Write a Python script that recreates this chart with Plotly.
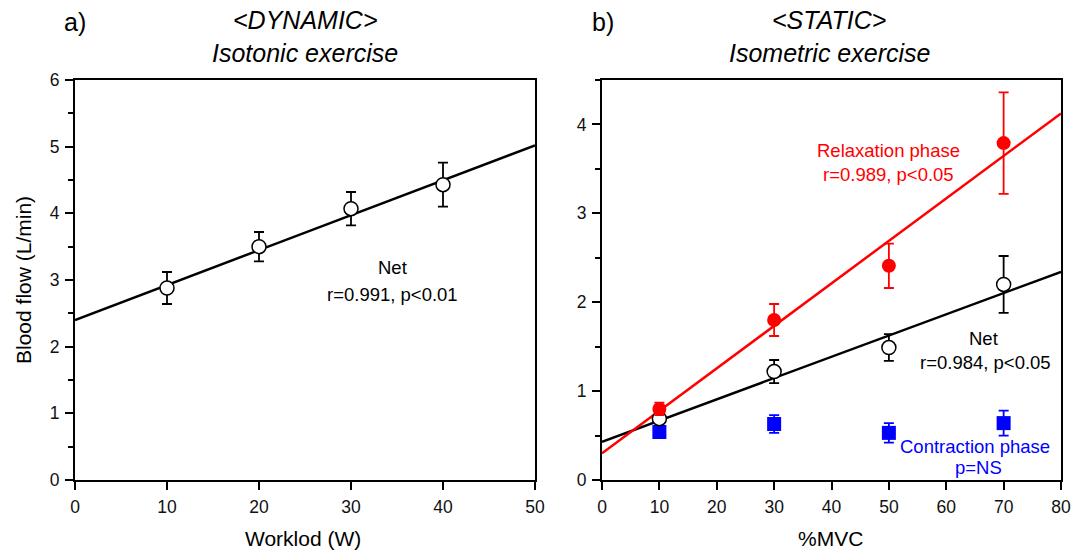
import numpy as np
import plotly.graph_objects as go

# Panel a: dynamic (isotonic)
workload = [10, 20, 30, 40]
net_a = [2.88, 3.50, 4.07, 4.43]
net_a_err = [0.24, 0.22, 0.25, 0.33]
fit_a = (2.40, 0.0524)  # intercept, slope

# Panel b: static (isometric)
mvc = [10, 30, 50, 70]
relax = [0.80, 1.80, 2.41, 3.79]
relax_err = [0.07, 0.18, 0.25, 0.57]
net_b = [0.69, 1.22, 1.49, 2.20]
net_b_err = [0.05, 0.13, 0.15, 0.32]
contr = [0.54, 0.63, 0.53, 0.64]
contr_err = [0.04, 0.10, 0.11, 0.14]
fit_relax = (0.30, 0.0478)
fit_net_b = (0.43, 0.0239)

FONT = "Liberation Sans, Arial, sans-serif"
fig = go.Figure()

def err(vals, color):
    return dict(type="data", array=vals, visible=True, color=color, thickness=1.8, width=5)

# panel a
xa = np.array([0, 50])
fig.add_trace(go.Scatter(x=xa, y=fit_a[0] + fit_a[1] * xa, mode="lines",
                         line=dict(color="black", width=2.5), xaxis="x", yaxis="y", showlegend=False))
fig.add_trace(go.Scatter(x=workload, y=net_a, mode="markers", error_y=err(net_a_err, "black"),
                         marker=dict(symbol="circle", size=14, color="white", line=dict(color="black", width=1.5)),
                         xaxis="x", yaxis="y", showlegend=False))

# panel b
xb = np.array([0, 80])
fig.add_trace(go.Scatter(x=xb, y=fit_net_b[0] + fit_net_b[1] * xb, mode="lines",
                         line=dict(color="black", width=2.5), xaxis="x2", yaxis="y2", showlegend=False))
fig.add_trace(go.Scatter(x=xb, y=fit_relax[0] + fit_relax[1] * xb, mode="lines",
                         line=dict(color="#ff0000", width=2.5), xaxis="x2", yaxis="y2", showlegend=False))
fig.add_trace(go.Scatter(x=mvc, y=contr, mode="markers", error_y=err(contr_err, "#0000ff"),
                         marker=dict(symbol="square", size=14, color="#0000ff"),
                         xaxis="x2", yaxis="y2", showlegend=False))
fig.add_trace(go.Scatter(x=mvc, y=net_b, mode="markers", error_y=err(net_b_err, "black"),
                         marker=dict(symbol="circle", size=14, color="white", line=dict(color="black", width=1.5)),
                         xaxis="x2", yaxis="y2", showlegend=False))
fig.add_trace(go.Scatter(x=mvc, y=relax, mode="markers", error_y=err(relax_err, "#ff0000"),
                         marker=dict(symbol="circle", size=14, color="#ff0000"),
                         xaxis="x2", yaxis="y2", showlegend=False))

W, H = 1072, 551
ydom = [1 - 480 / H, 1 - 80 / H]
axis_common = dict(showline=True, linecolor="black", linewidth=2, mirror=True, ticks="outside",
                   ticklen=8, tickwidth=1.5, tickcolor="black", showgrid=False, zeroline=False,
                   automargin=False, ticklabelstandoff=2,
                   tickfont=dict(family=FONT, size=17.5, color="#111"))
minor = dict(ticks="outside", dtick=0.5, ticklen=5, tickcolor="black", tickwidth=1.5)

fig.update_layout(
    width=W, height=H, margin=dict(l=0, r=0, t=0, b=0),
    paper_bgcolor="white", plot_bgcolor="white", template="none",
    font=dict(family=FONT, color="black"),
    xaxis=dict(domain=[75 / W, 535 / W], range=[0, 50], dtick=10, anchor="y", **axis_common),
    yaxis=dict(domain=ydom, range=[0, 6], dtick=1, anchor="x", minor=minor, **axis_common),
    xaxis2=dict(domain=[602 / W, 1061 / W], range=[0, 80], dtick=10, anchor="y2", **axis_common),
    yaxis2=dict(domain=ydom, range=[0, 4.5], dtick=1, anchor="x2", minor=minor, **axis_common),
)

def ann(text, x, y, size=18.5, color="black", italic=False, xanchor="center", angle=0):
    t = f"<i>{text}</i>" if italic else text
    fig.add_annotation(text=t, x=x / W, y=1 - y / H, xref="paper", yref="paper", showarrow=False,
                       xanchor=xanchor, yanchor="middle", textangle=angle,
                       font=dict(family=FONT, size=size, color=color))

ann("a)", 62, 22, size=25, xanchor="left")
ann("&lt;DYNAMIC&gt;", 305, 20, size=25, italic=True)
ann("Isotonic exercise", 305, 53, size=25, italic=True)
ann("b)", 590, 22, size=25, xanchor="left")
ann("&lt;STATIC&gt;", 829, 20, size=25, italic=True)
ann("Isometric exercise", 829, 53, size=25, italic=True)

ann("Blood flow (L/min)", 23, 280, size=21, angle=-90)
ann("Worklod (W)", 303, 538, size=21)
ann("%MVC", 830, 538, size=21)

ann("Net", 392, 267)
ann("r=0.991, p<0.01", 392, 294)
ann("Relaxation phase", 888, 150, color="#ff0000")
ann("r=0.989, p<0.05", 888, 174, color="#ff0000")
ann("Net", 983, 338)
ann("r=0.984, p<0.05", 985, 362)
ann("Contraction phase", 975, 446, color="#0000ff")
ann("p=NS", 978, 467, color="#0000ff")

fig.write_html("out.html", config={"displayModeBar": False},
               post_script="document.body.style.margin='0';document.body.style.overflow='hidden';")
